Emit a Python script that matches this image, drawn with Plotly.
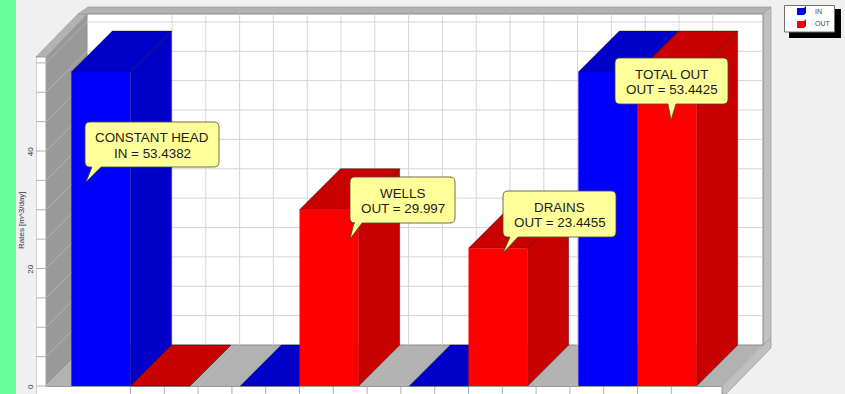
import plotly.graph_objects as go

categories = ["CONSTANT HEAD", "WELLS", "DRAINS", "TOTAL OUT"]
in_values = [53.4382, 0, 0, 53.4382]
out_values = [0, 29.997, 23.4455, 53.4425]
y_ticks = [0, 20, 40]
grid_values = [0, 5, 10, 15, 20, 25, 30, 35, 40, 45, 50, 55]
grid_positions = [0.0, 0.2, 0.4, 0.6, 0.8, 1.0, 1.2, 1.4, 1.6, 1.8, 2.0, 2.2, 2.4, 2.6, 2.8, 3.0, 3.2]
callouts = [
    # series, category index, box (left, top, right, bottom), tail (base a, base b, tip x, tip y)
    ("IN", 0, 85, 122, 219, 167, 92, 101, 86, 182),
    ("OUT", 1, 350, 177, 455, 223, 354, 362, 350, 239),
    ("OUT", 2, 503, 191, 616, 237, 510, 518, 503, 253),
    ("OUT", 3, 615, 58, 728, 104, 668, 676, 671, 120),
]

W, H = 845, 394
LEFT = 36
X_ZERO, X_SCALE = 130.5, 169.0
Y_ZERO, Y_SCALE = 386.0, 5.875
BAR_W = 0.35
DEPTH_PX = 41.0
DX = DEPTH_PX / X_SCALE
DY = DEPTH_PX / Y_SCALE


def X(px):
    return (px - X_ZERO) / X_SCALE


def Y(py):
    return (Y_ZERO - py) / Y_SCALE


def path(points):
    return "M" + "L".join(f"{X(a):.5f},{Y(b):.5f}" for a, b in points) + "Z"


def poly(points, fill, line="rgba(0,0,0,0)", width=0, layer="below"):
    return dict(type="path", xref="x", yref="y", path=path(points), fillcolor=fill,
                line=dict(color=line, width=width), layer=layer)


def seg(x0, y0, x1, y1, color, width=1, layer="below"):
    return dict(type="line", xref="x", yref="y", x0=X(x0), y0=Y(y0), x1=X(x1), y1=Y(y1),
                line=dict(color=color, width=width), layer=layer)


shapes = []
# green strip at the window edge
shapes.append(dict(type="rect", xref="paper", yref="paper", x0=-LEFT / (W - LEFT), x1=(16 - LEFT) / (W - LEFT),
                   y0=0, y1=1, fillcolor="#66ff99", line=dict(width=0), layer="below"))
# chart frame
shapes += [
    poly([(36, 57), (46, 57), (87, 14), (78, 14)], "#b2b2b2", "#9a9a9a", 0.7),
    poly([(78, 14), (88, 7), (771, 7), (763, 14)], "#b2b2b2", "#9a9a9a", 0.7),
    poly([(763, 14), (771, 7), (771, 338), (763, 345)], "#c0c0c0", "#9a9a9a", 0.7),
    poly([(722, 386), (771, 338), (771, 348), (726, 394), (722, 394)], "#c0c0c0", "#9a9a9a", 0.7),
    poly([(87, 14), (763, 14), (763, 345), (87, 345)], "#ffffff"),
    poly([(46, 57), (87, 14), (87, 345), (46, 386)], "#999999"),
    poly([(46, 386), (722, 386), (763, 345), (87, 345)], "#b2b2b2"),
    poly([(36, 57), (46, 57), (46, 394), (36, 394)], "#ffffff"),
    poly([(36, 387), (722, 387), (722, 394), (36, 394)], "#ffffff"),
    seg(36, 57, 36, 394, "#a0a0a0"), seg(36, 57, 46, 57, "#a0a0a0"), seg(46, 57, 46, 386, "#a0a0a0"),
    seg(46, 386.5, 722, 386.5, "#9a9a9a", 1.2), seg(722, 386, 722, 394, "#9a9a9a"),
    seg(87, 345, 763, 345, "#8c8c8c", 1.2), seg(87, 14, 87, 345, "#8c8c8c"), seg(87, 14, 763, 14, "#8c8c8c"),
    seg(763, 14, 763, 345, "#8c8c8c"),
]
for v in grid_values:
    py = Y_ZERO - v * Y_SCALE
    if v:
        shapes.append(seg(87, py - DEPTH_PX, 763, py - DEPTH_PX, "#d4d4d4"))
    shapes.append(seg(46, py, 87, py - DEPTH_PX, "#bdbdbd", 0.8))
    shapes.append(seg(36, py, 46, py, "#b0b0b0"))
for g in grid_positions:
    px = X_ZERO + g * X_SCALE
    shapes.append(seg(px + DEPTH_PX + 0.5, 14, px + DEPTH_PX + 0.5, 345, "#d4d4d4"))
    shapes.append(seg(px, 386, px + DEPTH_PX, 345, "#bcbcbc", 0.8))
    shapes.append(seg(px, 387, px, 394, "#b0b0b0"))

fig = go.Figure()

# side and top faces sit beneath the front faces, in a lower overlay
for name, vals, off, dark in (("IN", in_values, -BAR_W, "#0000c8"), ("OUT", out_values, 0.0, "#c80000")):
    for i, v in enumerate(vals):
        x0, x1 = i + off, i + off + BAR_W
        top = ([x0, x1, x1 + DX, x0 + DX, x0], [v, v, v + DY, v + DY, v])
        side = ([x1, x1 + DX, x1 + DX, x1, x1], [0, DY, v + DY, v, 0])
        for xs, ys in (side, top):
            fig.add_trace(go.Scatter(x=xs, y=ys, mode="lines", fill="toself", fillcolor=dark,
                                     line=dict(color="rgba(0,0,0,0.55)", width=0.7),
                                     hoverinfo="skip", showlegend=False))

x_pos = list(range(len(categories)))
fig.add_trace(go.Bar(x=x_pos, y=in_values, name="IN", width=BAR_W, offset=-BAR_W,
                     marker=dict(color="#0000ff", line=dict(width=0)), xaxis="x2", yaxis="y2", showlegend=False))
fig.add_trace(go.Bar(x=x_pos, y=out_values, name="OUT", width=BAR_W, offset=0,
                     marker=dict(color="#ff0000", line=dict(width=0)), xaxis="x2", yaxis="y2", showlegend=False))

annotations = []


def text(px, py, s, size, color, angle=0):
    annotations.append(dict(xref="paper", yref="paper", x=(px - LEFT) / (W - LEFT), y=1 - py / H, text=s,
                            showarrow=False, xanchor="center", yanchor="middle", textangle=angle,
                            font=dict(family="Liberation Sans, Arial, sans-serif", size=size, color=color)))


# callouts
for series, i, l, t, r, b, ta, tb, tipx, tipy in callouts:
    value = in_values[i] if series == "IN" else out_values[i]
    c = 5
    pts = (f"M{X(l+c):.5f},{Y(t):.5f}L{X(r-c):.5f},{Y(t):.5f}Q{X(r):.5f},{Y(t):.5f} {X(r):.5f},{Y(t+c):.5f}"
           f"L{X(r):.5f},{Y(b-c):.5f}Q{X(r):.5f},{Y(b):.5f} {X(r-c):.5f},{Y(b):.5f}"
           f"L{X(tb):.5f},{Y(b):.5f}L{X(tipx):.5f},{Y(tipy):.5f}L{X(ta):.5f},{Y(b):.5f}"
           f"L{X(l+c):.5f},{Y(b):.5f}Q{X(l):.5f},{Y(b):.5f} {X(l):.5f},{Y(b-c):.5f}"
           f"L{X(l):.5f},{Y(t+c):.5f}Q{X(l):.5f},{Y(t):.5f} {X(l+c):.5f},{Y(t):.5f}Z")
    shapes.append(dict(type="path", xref="x", yref="y", path=pts, fillcolor="#ffff99",
                       line=dict(color="#4a4a30", width=0.8), layer="above"))
    cx, cy = (l + r) / 2, (t + b) / 2
    text(cx, cy - 7, categories[i], 13.4, "#1c1c1c")
    text(cx, cy + 8.5, f"{series} = {value:g}", 13.4, "#1c1c1c")

# legend
shapes += [
    poly([(789, 9), (841, 9), (841, 38), (789, 38)], "#000000", layer="above"),
    poly([(784.5, 5.5), (834.5, 5.5), (834.5, 32), (784.5, 32)], "#ffffff", "#707070", 1, "above"),
    poly([(797, 8), (804, 8), (806, 6), (806, 13), (804, 15), (797, 15)], "#0000c8", layer="above"),
    poly([(797, 8), (804, 8), (804, 15), (797, 15)], "#0000ff", layer="above"),
    poly([(797, 21), (804, 21), (806, 19), (806, 26), (804, 28), (797, 28)], "#c80000", layer="above"),
    poly([(797, 21), (804, 21), (804, 28), (797, 28)], "#ff0000", layer="above"),
]
text(818, 11.5, "IN", 7, "#444455")
text(822.5, 24, "OUT", 7, "#444455")
text(21, 220, "Rates [m^3/day]", 8, "#333344", -90)

x_range = [X(LEFT), X(W)]
y_range = [Y(H), Y(0)]
fig.update_layout(
    width=W, height=H, autosize=False,
    margin=dict(l=LEFT, r=0, t=0, b=0, pad=0),
    paper_bgcolor="#f0f0f0", plot_bgcolor="rgba(0,0,0,0)",
    barmode="overlay", showlegend=False,
    shapes=shapes, annotations=annotations,
    xaxis=dict(range=x_range, visible=False, fixedrange=True),
    yaxis=dict(range=y_range, tickvals=y_ticks, ticktext=[str(v) for v in y_ticks], tickangle=-90,
               ticklabelshift=2,
               showgrid=False, zeroline=False, showline=False, ticks="", fixedrange=True,
               tickfont=dict(family="Liberation Sans, Arial, sans-serif", size=8, color="#333344")),
    xaxis2=dict(range=x_range, overlaying="x", visible=False, fixedrange=True),
    yaxis2=dict(range=y_range, overlaying="y", visible=False, fixedrange=True),
)
fig.write_html("out.html", config=dict(displayModeBar=False),
               post_script="document.body.style.margin='0';document.body.style.overflow='hidden';")
